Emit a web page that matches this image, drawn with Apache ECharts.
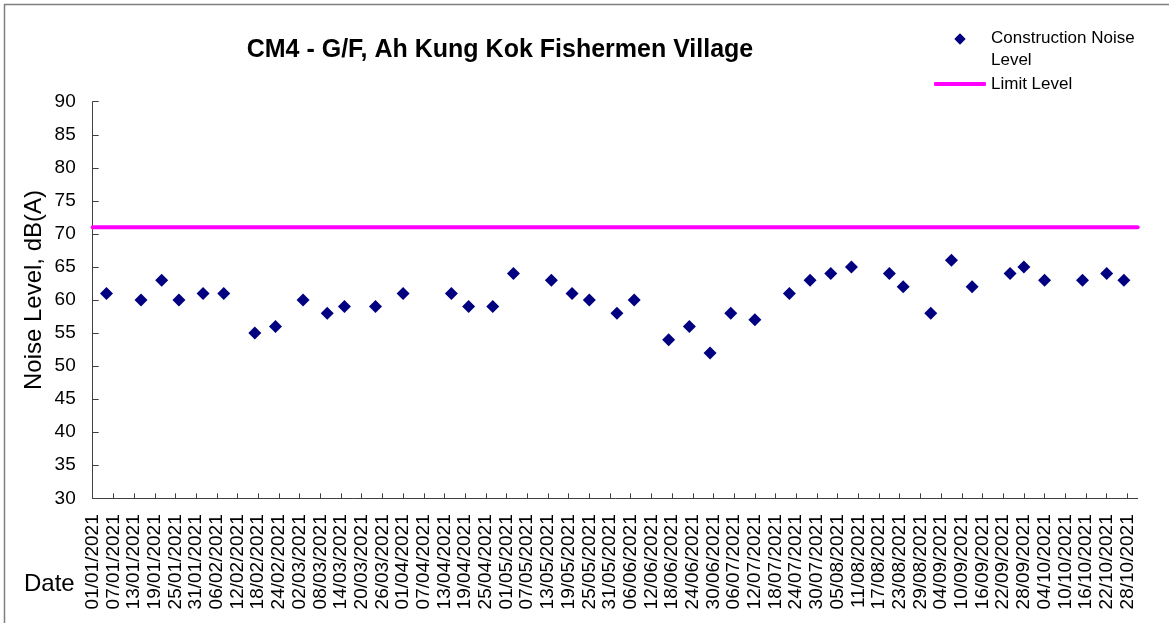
<!DOCTYPE html>
<html>
<head>
<meta charset="utf-8">
<title>CM4 - G/F, Ah Kung Kok Fishermen Village</title>
<script src="https://cdn.jsdelivr.net/npm/echarts@6/dist/echarts.min.js"></script>
<style>
  html, body { margin: 0; padding: 0; background: #ffffff; }
  #chart { width: 1169px; height: 623px; }
</style>
</head>
<body>
<div id="chart"></div>
<script>
// Measurement dates (dd/mm/yyyy) and measured Leq, dB(A)
const measureDates = [
  '05/01/2021', '15/01/2021', '21/01/2021', '26/01/2021', '02/02/2021', '08/02/2021',
  '17/02/2021', '23/02/2021', '03/03/2021', '10/03/2021', '15/03/2021', '24/03/2021',
  '01/04/2021', '15/04/2021', '20/04/2021', '27/04/2021', '03/05/2021', '14/05/2021',
  '20/05/2021', '25/05/2021', '02/06/2021', '07/06/2021', '17/06/2021', '23/06/2021',
  '29/06/2021', '05/07/2021', '12/07/2021', '22/07/2021', '28/07/2021', '03/08/2021',
  '09/08/2021', '20/08/2021', '24/08/2021', '01/09/2021', '07/09/2021', '13/09/2021',
  '24/09/2021', '28/09/2021', '04/10/2021', '15/10/2021', '22/10/2021', '27/10/2021'
];
const noiseLevels = [
  61, 60, 63, 60, 61, 61,
  55, 56, 60, 58, 59, 59,
  61, 61, 59, 59, 64, 63,
  61, 60, 58, 60, 54, 56,
  52, 58, 57, 61, 63, 64,
  65, 64, 62, 58, 66, 62,
  64, 65, 63, 63, 64, 63
];
const limitLevel = 71;

// Date axis range and tick labels (every 6 days)
const axisStart = '01/01/2021';
const axisEnd = '31/10/2021';
const tickLabels = [
  '01/01/2021', '07/01/2021', '13/01/2021', '19/01/2021', '25/01/2021', '31/01/2021',
  '06/02/2021', '12/02/2021', '18/02/2021', '24/02/2021', '02/03/2021', '08/03/2021',
  '14/03/2021', '20/03/2021', '26/03/2021', '01/04/2021', '07/04/2021', '13/04/2021',
  '19/04/2021', '25/04/2021', '01/05/2021', '07/05/2021', '13/05/2021', '19/05/2021',
  '25/05/2021', '31/05/2021', '06/06/2021', '12/06/2021', '18/06/2021', '24/06/2021',
  '30/06/2021', '06/07/2021', '12/07/2021', '18/07/2021', '24/07/2021', '30/07/2021',
  '05/08/2021', '11/08/2021', '17/08/2021', '23/08/2021', '29/08/2021', '04/09/2021',
  '10/09/2021', '16/09/2021', '22/09/2021', '28/09/2021', '04/10/2021', '10/10/2021',
  '16/10/2021', '22/10/2021', '28/10/2021'
];

// Day count from the axis start for a dd/mm/yyyy string
function toUTC(s) {
  const p = s.split('/').map(Number);
  return Date.UTC(p[2], p[1] - 1, p[0]);
}
const originUTC = toUTC(axisStart);
function dayOf(s) {
  return Math.round((toUTC(s) - originUTC) / 86400000);
}

const tickDays = tickLabels.map(dayOf);
const endDay = dayOf(axisEnd);
const FONT = 'Liberation Sans, Arial, Helvetica, sans-serif';

const chart = echarts.init(document.getElementById('chart'), null, { renderer: 'canvas' });

chart.setOption({
  animation: false,
  backgroundColor: '#ffffff',
  textStyle: { fontFamily: FONT, color: '#000000' },
  graphic: [{
    type: 'rect',
    silent: true,
    z: -10,
    shape: { x: 4.5, y: 4.5, width: 1300, height: 800 },
    style: { fill: 'none', stroke: '#7f7f7f', lineWidth: 1.5 }
  }],
  title: {
    text: 'CM4 - G/F, Ah Kung Kok Fishermen Village',
    left: 500,
    top: 38,
    textAlign: 'center',
    padding: 0,
    textStyle: { fontFamily: FONT, fontSize: 25, fontWeight: 'bold', color: '#000000' }
  },
  legend: [
    {
      data: [{
        name: 'Construction Noise Level',
        // diamond near the top of a 52x44 box so it sits beside the first text line
        icon: 'path://M26,6.3L31.7,12L26,17.7L20.3,12Z M0,0 M52,44',
        itemStyle: { opacity: 1 }
      }],
      left: 934,
      top: 27,
      padding: 0,
      itemWidth: 52,
      itemHeight: 44,
      selectedMode: false,
      formatter: function () { return 'Construction Noise\nLevel'; },
      textStyle: { fontFamily: FONT, fontSize: 17, lineHeight: 22, color: '#000000' }
    },
    {
      data: [{ name: 'Limit Level', icon: 'roundRect' }],
      left: 934,
      top: 73,
      padding: 0,
      itemWidth: 52,
      itemHeight: 4,
      selectedMode: false,
      textStyle: { fontFamily: FONT, fontSize: 17, lineHeight: 22, color: '#000000' }
    }
  ],
  grid: {
    left: 92.7,
    right: 31.3,
    top: 101.7,
    bottom: 124.7,
    containLabel: false,
    outerBoundsMode: 'none'
  },
  xAxis: {
    type: 'value',
    min: 0,
    max: endDay,
    name: 'Date',
    nameLocation: 'start',
    nameGap: 18,
    nameMoveOverlap: false,
    nameTextStyle: {
      fontFamily: FONT, fontSize: 24, color: '#000000',
      verticalAlign: 'top', padding: [74, 0, 0, 0]
    },
    splitLine: { show: false },
    axisLine: { show: true, onZero: false, lineStyle: { color: '#404040', width: 1 } },
    axisTick: {
      show: true, inside: true, length: 5,
      customValues: tickDays,
      lineStyle: { color: '#404040', width: 1 }
    },
    axisLabel: {
      show: true,
      rotate: 90,
      margin: 16,
      fontFamily: FONT,
      fontSize: 19,
      color: '#000000',
      customValues: tickDays,
      formatter: function (v) {
        const i = tickDays.indexOf(Math.round(v));
        return i >= 0 ? tickLabels[i] : '';
      }
    }
  },
  yAxis: {
    type: 'value',
    min: 30,
    max: 90,
    interval: 5,
    name: 'Noise Level, dB(A)',
    nameLocation: 'middle',
    nameGap: 46,
    nameMoveOverlap: false,
    nameTextStyle: { fontFamily: FONT, fontSize: 24, color: '#000000', padding: [0, 0, 0, 20] },
    splitLine: { show: false },
    axisLine: { show: true, lineStyle: { color: '#404040', width: 1 } },
    axisTick: { show: true, inside: true, length: 6, lineStyle: { color: '#404040', width: 1 } },
    axisLabel: { fontFamily: FONT, fontSize: 19, color: '#000000', margin: 17 }
  },
  series: [
    {
      name: 'Construction Noise Level',
      type: 'scatter',
      symbol: 'diamond',
      symbolSize: 13,
      itemStyle: { color: '#000080', opacity: 1 },
      z: 3,
      data: measureDates.map(function (d, i) { return [dayOf(d), noiseLevels[i]]; })
    },
    {
      name: 'Limit Level',
      type: 'line',
      symbol: 'none',
      z: 2,
      itemStyle: { color: '#FF00FF' },
      lineStyle: { color: '#FF00FF', width: 4, cap: 'round' },
      data: [[0, limitLevel], [endDay, limitLevel]]
    }
  ]
});
</script>
</body>
</html>
